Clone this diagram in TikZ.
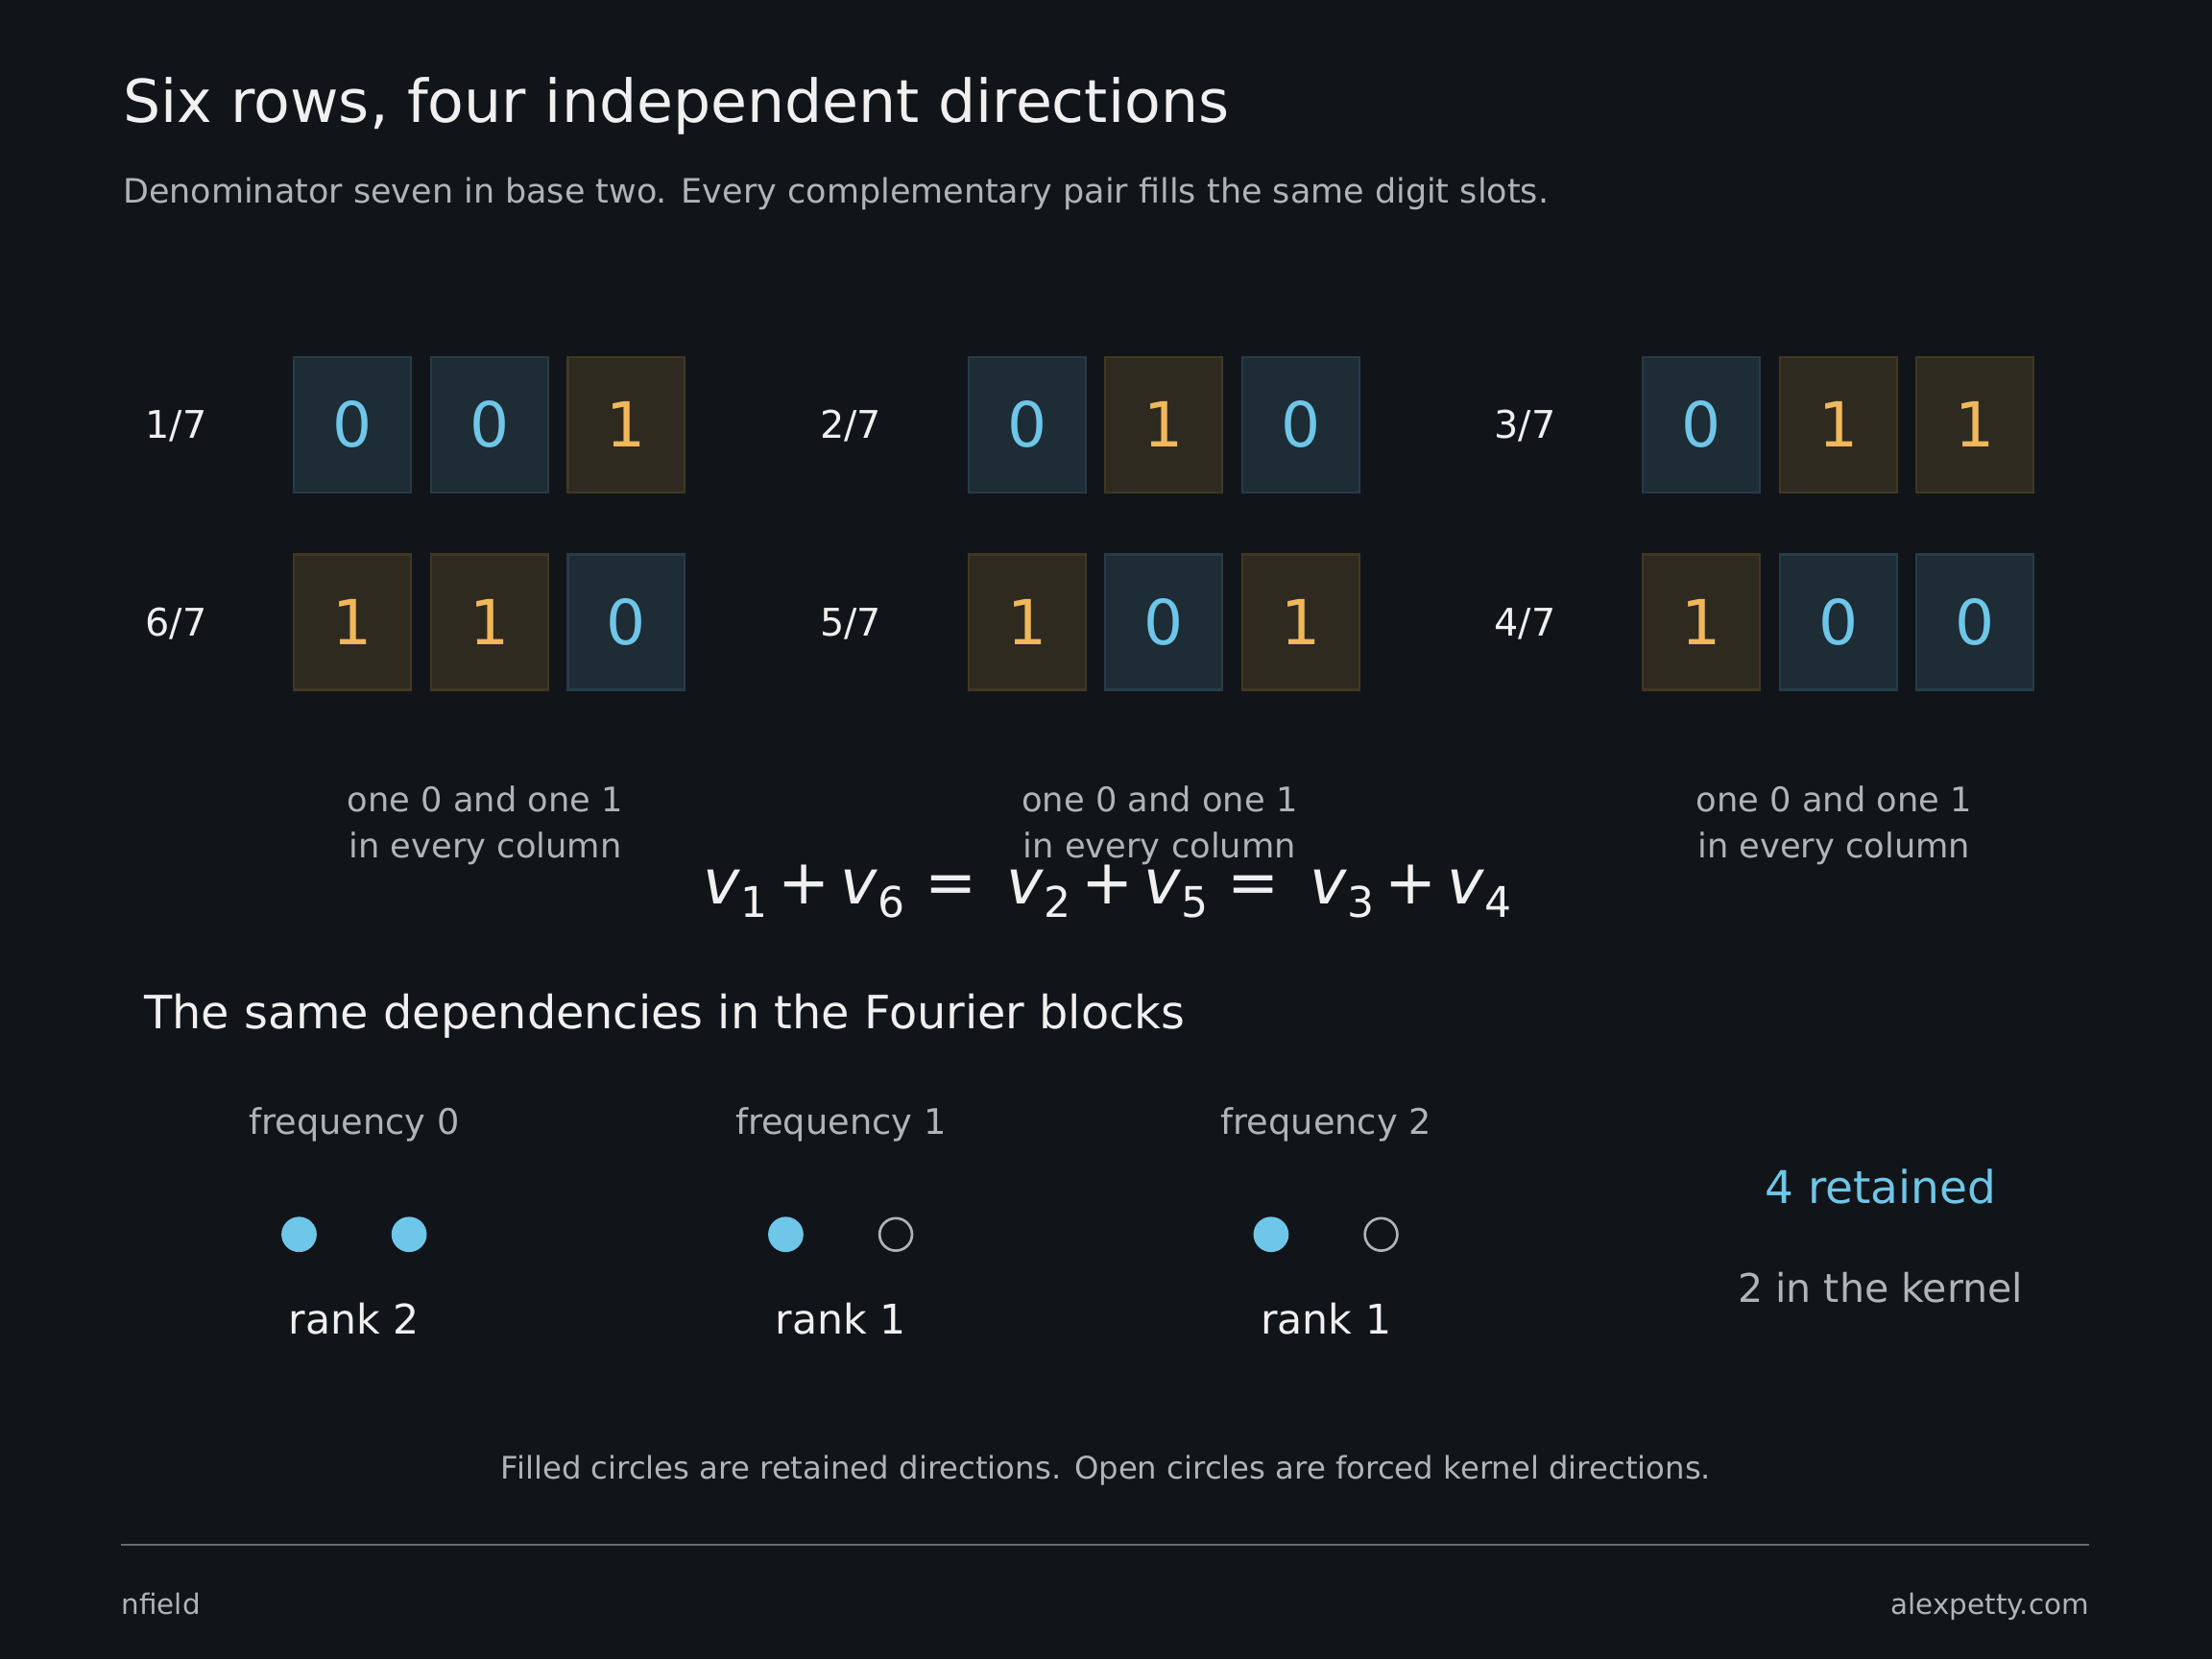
\documentclass[tikz,border=0pt]{standalone}
\usepackage{fontspec}
\setmainfont{DejaVu Sans}
\usetikzlibrary{positioning}
\definecolor{bg}{HTML}{111519}
\definecolor{fg}{HTML}{F0F0F0}
\definecolor{soft}{HTML}{B0B4B8}
\definecolor{blu}{HTML}{6EC6E8}
\definecolor{org}{HTML}{F0B85A}
\definecolor{bluefill}{HTML}{1E2C35}
\definecolor{blueline}{HTML}{273B48}
\definecolor{orgfill}{HTML}{2E2A20}
\definecolor{orgline}{HTML}{413823}
\newcommand{\fs}[1]{\fontsize{#1}{#1}\selectfont}
\newcommand{\vsub}[1]{\textit{v}\raisebox{-0.22em}{\fs{30}#1}}

\begin{document}
\begin{tikzpicture}[
    x=1pt, y=-1pt,
    every node/.style={inner sep=0pt, text=fg},
    bit0/.style={%
      draw=blueline, fill=bluefill, line width=1.5pt,
      minimum width=83pt, minimum height=96pt,
      text=blu, font=\fs{44},
    },
    bit1/.style={bit0, draw=orgline, fill=orgfill, text=org},
    row/.style={font=\fs{27}},
    note/.style={font=\fs{24}, text=soft, align=center},
    dot/.style={circle, fill=blu, minimum size=25pt},
    hole/.style={circle, draw=soft, line width=1.8pt, minimum size=23pt},
  ]
    \fill[bg] (0,0) rectangle (1568,1176);

    \node[anchor=base west, font=\fs{42}] (title) at (87,87) {Six rows, four independent directions};
    \node[anchor=base west, font=\fs{23.8}, text=soft] (sub) at (87,144) {Denominator seven in base two. Every complementary pair fills the same digit slots.};

    % bit rows: label, three digits
    \foreach \g/\top/\bot in {0/1/6, 1/2/5, 2/3/4}{
      \pgfmathsetmacro{\gx}{\g*478}
      \node[row] (t\g) at (\gx+125,302) {\top/7};
      \node[row] (b\g) at (\gx+125,442) {\bot/7};
      \node[note] (c\g) at (\gx+344,585) {one 0 and one 1\\[9pt]in every column};
    }
    \foreach \g/\p/\q/\r/\s/\t/\u in {0/0/0/1/1/1/0, 1/0/1/0/1/0/1, 2/0/1/1/1/0/0}{
      \pgfmathsetmacro{\gx}{\g*478}
      \node[bit\p] (t\g a) at (\gx+250,301) {\p};
      \node[bit\q] (t\g b) at (\gx+347,301) {\q};
      \node[bit\r] (t\g c) at (\gx+444,301) {\r};
      \node[bit\s] (b\g a) at (\gx+250,441) {\s};
      \node[bit\t] (b\g b) at (\gx+347,441) {\t};
      \node[bit\u] (b\g c) at (\gx+444,441) {\u};
    }

    \node[font=\fs{44}] (eq) at (785,632) {\vsub{1}\,+\,\vsub{6}\ =\ \,\vsub{2}\,+\,\vsub{5}\ =\ \,\vsub{3}\,+\,\vsub{4}};

    \node[anchor=base west, font=\fs{32.5}] (four) at (102,729) {The same dependencies in the Fourier blocks};

    % Fourier blocks
    \foreach \k/\fx/\sh/\rk in {0/251/dot/2, 1/596/hole/1, 2/940/hole/1}{
      \node[note, font=\fs{25}] (f\k) at (\fx,797) {frequency \k};
      \node[dot] (d\k) at (\fx-39,875) {};
      \node[\sh] (e\k) at (\fx+39,875) {};
      \node[font=\fs{29}] (r\k) at (\fx,935) {rank \rk};
    }
    \node[font=\fs{32}, text=blu] (kept) at (1333,841) {4 retained};
    \node[font=\fs{28}, text=soft] (kern) at (1333,913) {2 in the kernel};

    \node[note, font=\fs{22}] (foot) at (784,1042) {Filled circles are retained directions. Open circles are forced kernel directions.};
    \coordinate (l1) at (86,1095);
    \coordinate (l2) at (1481,1095);
    \draw[soft!55!bg, line width=1.5pt] (l1) -- (l2);
    \node[anchor=base west, font=\fs{20}, text=soft] (nf) at (86,1144) {nfield};
    \node[anchor=base east, font=\fs{20}, text=soft] (ap) at (1481,1144) {alexpetty.com};
\end{tikzpicture}
\end{document}
